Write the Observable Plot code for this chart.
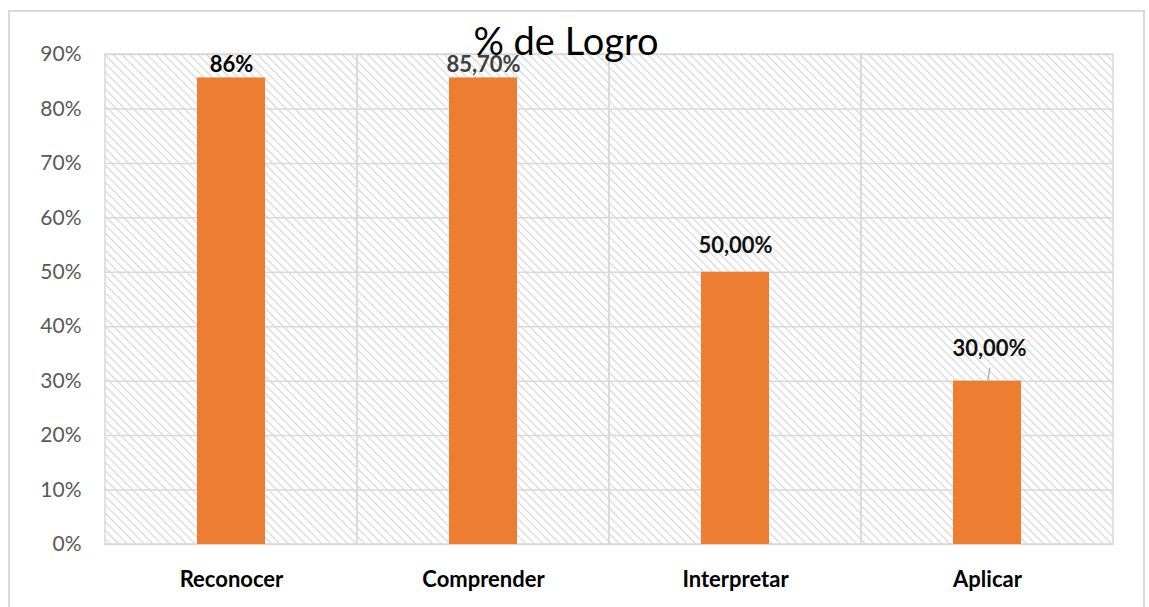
<!DOCTYPE html>
<html>
<head>
<meta charset="utf-8">
<script src="https://cdn.jsdelivr.net/npm/d3@7"></script>
<script src="https://cdn.jsdelivr.net/npm/@observablehq/plot@0.6"></script>
<style>
  html, body { margin: 0; padding: 0; background: #fff; }
  #wrap { position: relative; width: 1149px; height: 607px; overflow: hidden; font-family: Lato, "Open Sans", sans-serif; }
  #border { position: absolute; left: 8px; top: 10px; width: 1137px; height: 640px; border: 2px solid #d9d9d9; box-sizing: border-box; }
  #chart { position: absolute; left: 0; top: 0; }
</style>
</head>
<body>
<div id="wrap"><div id="border"></div><div id="chart"></div></div>
<script>
const categories = ["Reconocer", "Comprender", "Interpretar", "Aplicar"];
const values = [0.857, 0.857, 0.50, 0.30];
const labels = ["86%", "85,70%", "50,00%", "30,00%"];
const labelColors = ["#000000", "#404040", "#111111", "#111111"];
const yTicks = [0, 0.1, 0.2, 0.3, 0.4, 0.5, 0.6, 0.7, 0.8, 0.9];
const title = "% de Logro";

const data = categories.map((c, i) => ({cat: c, value: values[i], label: labels[i], color: labelColors[i], i}));

const chart = Plot.plot({
  width: 1149,
  height: 607,
  marginLeft: 104,
  marginRight: 36,
  marginTop: 54,
  marginBottom: 63,
  style: {fontFamily: "Lato, 'Open Sans', sans-serif", background: "transparent", overflow: "visible"},
  x: {domain: categories, padding: 0, label: null, tickSize: 0, tickPadding: 27},
  y: {domain: [0, 0.9], label: null, ticks: yTicks, tickFormat: d3.format(".0%"), tickSize: 0, tickPadding: 23},
  marks: [
    Plot.frame({fill: "url(#hatch)", stroke: "none"}),
    Plot.ruleY(yTicks, {stroke: "#d9d9d9", strokeWidth: 1.5}),
    Plot.cell(categories, {x: d => d, fill: "none", stroke: "#d9d9d9", strokeWidth: 1.5}),
    Plot.barY(data, {x: "cat", y: "value", fill: "#ED7D31", insetLeft: 92, insetRight: 92}),
    Plot.text(data.filter(d => d.i < 2), {x: "cat", y: "value", text: "label", fill: "color", fontWeight: "bold", fontSize: 22, lineAnchor: "bottom", dy: -6}),
    Plot.text(data.filter(d => d.i === 2), {x: "cat", y: "value", text: "label", fill: "color", fontWeight: "bold", fontSize: 22, lineAnchor: "bottom", dy: -19}),
    Plot.text(data.filter(d => d.i === 3), {x: "cat", y: "value", text: "label", fill: "color", fontWeight: "bold", fontSize: 22, lineAnchor: "bottom", dy: -25, dx: 2}),
    Plot.text([title], {text: d => d, frameAnchor: "top", dx: -43, dy: 0, lineAnchor: "bottom", fontSize: 38, fill: "#000"})
  ]
});

// hatch pattern definition (downward diagonal)
const svg = d3.select(chart);
const defs = svg.insert("defs", ":first-child");
const pat = defs.append("pattern")
  .attr("id", "hatch")
  .attr("patternUnits", "userSpaceOnUse")
  .attr("width", 6).attr("height", 6)
  .attr("patternTransform", "rotate(45)");
pat.append("rect").attr("width", 6).attr("height", 6).attr("fill", "#ffffff");
pat.append("line").attr("x1", 0).attr("y1", 0).attr("x2", 6).attr("y2", 0)
  .attr("stroke", "#d4d4d4").attr("stroke-width", 2.2);

// axis text styling
svg.selectAll("g[aria-label='y-axis tick label']").attr("fill", "#595959").style("font-size", "21px");
svg.selectAll("g[aria-label='x-axis tick label']").attr("fill", "#000").style("font-size", "22px").style("font-weight", "bold");

// leader line for Aplicar label, using the plot's own scales
const xs = chart.scale("x"), ys = chart.scale("y");
const xScale = d3.scaleBand(xs.domain, xs.range).paddingInner(xs.paddingInner ?? 0).paddingOuter(xs.paddingOuter ?? 0).align(xs.align ?? 0.5);
const yScale = d3.scaleLinear(ys.domain, ys.range);
const leader = data.filter(d => d.i === 3);
svg.append("g").selectAll("line").data(leader).join("line")
  .attr("x1", d => xScale(d.cat) + xScale.bandwidth() / 2 + 1)
  .attr("x2", d => xScale(d.cat) + xScale.bandwidth() / 2 + 3)
  .attr("y1", d => yScale(d.value))
  .attr("y2", d => yScale(d.value) - 13)
  .attr("stroke", "#a6a6a6").attr("stroke-width", 1.2);

document.getElementById("chart").appendChild(chart);
</script>
</body>
</html>
